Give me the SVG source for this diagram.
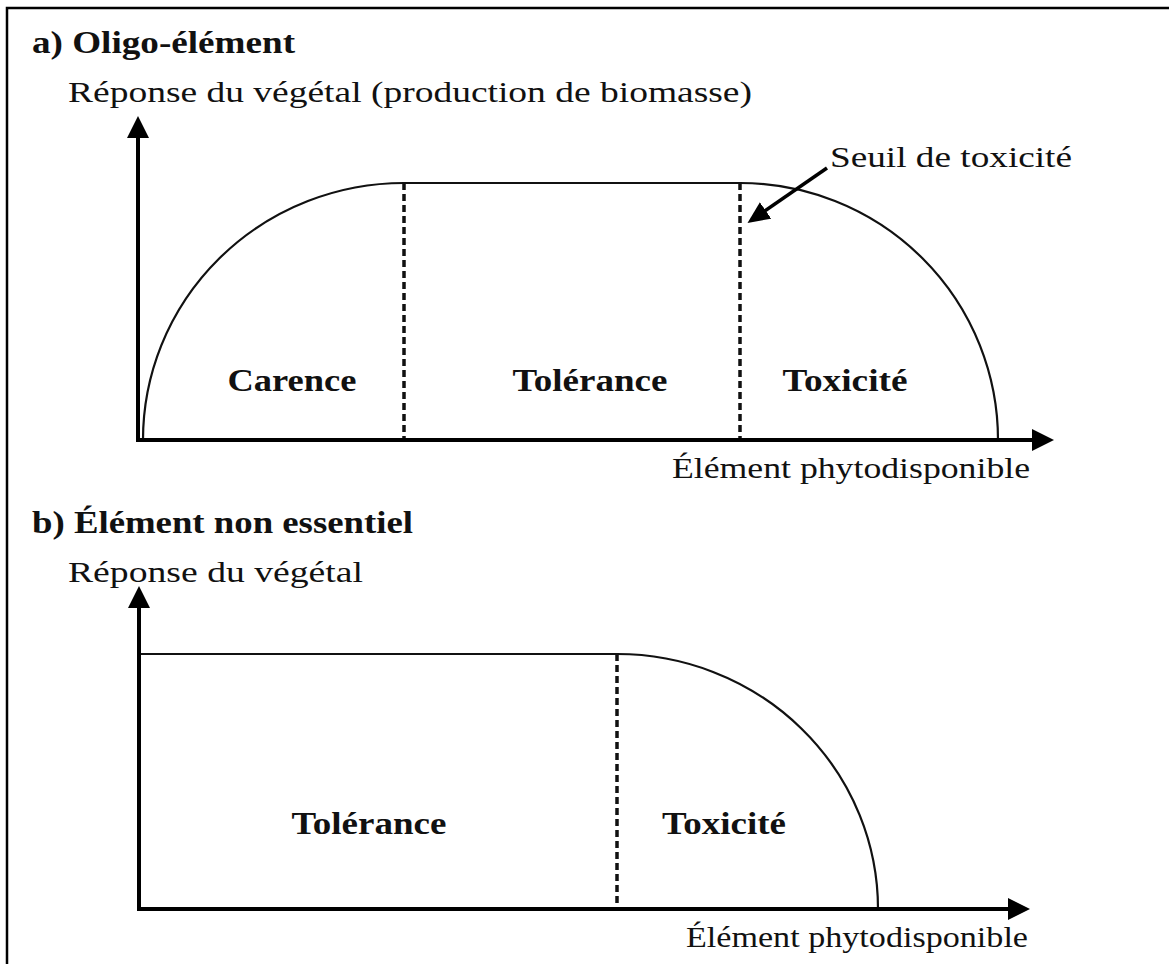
<svg xmlns="http://www.w3.org/2000/svg" width="1169" height="964" viewBox="0 0 1169 964">
<style>
text{font-family:"Liberation Serif","Times New Roman",serif;fill:#111}
.t{font-weight:bold;font-size:31px}
.l{font-size:29px}
.z{font-weight:bold;font-size:31px;text-anchor:middle}
.ax{stroke:#000;stroke-width:4;fill:none}
.cv{stroke:#111;stroke-width:2.2;fill:none}
.ds{stroke:#111;stroke-width:3.5;stroke-dasharray:7 4;fill:none}
</style>
<defs>
<marker id="ah" markerUnits="userSpaceOnUse" markerWidth="22" markerHeight="22" refX="10" refY="11" orient="auto" viewBox="0 0 22 22">
<path d="M0,0 L22,11 L0,22 z" fill="#000"/>
</marker>
<marker id="sh" markerUnits="userSpaceOnUse" markerWidth="22" markerHeight="20" refX="8" refY="10" orient="auto" viewBox="0 0 22 20">
<path d="M0,0 L22,10 L0,20 z" fill="#000"/>
</marker>
</defs>
<rect width="1169" height="964" fill="#fff"/>
<path d="M7,964 L7,8 L1169,8" stroke="#000" stroke-width="2.5" fill="none"/>

<g id="panel-a">
<text class="t" x="32" y="53" textLength="263" lengthAdjust="spacingAndGlyphs">a) Oligo-élément</text>
<text class="l" x="68" y="102" textLength="684" lengthAdjust="spacingAndGlyphs">Réponse du végétal (production de biomasse)</text>
<path class="cv" d="M143,440 A261,257 0 0 1 404,183 L740,183 A258,257 0 0 1 998,440"/>
<line class="ds" x1="404" y1="183" x2="404" y2="440"/>
<line class="ds" x1="740" y1="183" x2="740" y2="440"/>
<text class="z" x="292" y="391" textLength="129" lengthAdjust="spacingAndGlyphs">Carence</text>
<text class="z" x="590" y="391" textLength="155" lengthAdjust="spacingAndGlyphs">Tolérance</text>
<text class="z" x="845" y="391" textLength="125" lengthAdjust="spacingAndGlyphs">Toxicité</text>
<text class="l" x="830" y="167" textLength="242" lengthAdjust="spacingAndGlyphs">Seuil de toxicité</text>
<text class="l" x="672" y="478" textLength="358" lengthAdjust="spacingAndGlyphs">Élément phytodisponible</text>
</g>

<g id="panel-b">
<text class="t" x="32" y="533" textLength="381" lengthAdjust="spacingAndGlyphs">b) Élément non essentiel</text>
<text class="l" x="68" y="582" textLength="295" lengthAdjust="spacingAndGlyphs">Réponse du végétal</text>
<path class="cv" d="M139,654 L617,654 A261,255 0 0 1 878,909"/>
<line class="ds" x1="617" y1="654" x2="617" y2="909"/>
<text class="z" x="369" y="834" textLength="155" lengthAdjust="spacingAndGlyphs">Tolérance</text>
<text class="z" x="724" y="834" textLength="124" lengthAdjust="spacingAndGlyphs">Toxicité</text>
<text class="l" x="686" y="947" textLength="342" lengthAdjust="spacingAndGlyphs">Élément phytodisponible</text>
</g>

<g id="connectors">
<line class="ax" x1="138" y1="442" x2="138" y2="128" marker-end="url(#ah)"/>
<line class="ax" x1="136" y1="440" x2="1042" y2="440" marker-end="url(#ah)"/>
<line class="ax" x1="139" y1="911" x2="139" y2="598" marker-end="url(#ah)"/>
<line class="ax" x1="137" y1="909" x2="1018" y2="909" marker-end="url(#ah)"/>
<line stroke="#000" stroke-width="3.5" x1="827" y1="168" x2="759" y2="215" marker-end="url(#sh)"/>
</g>
</svg>
